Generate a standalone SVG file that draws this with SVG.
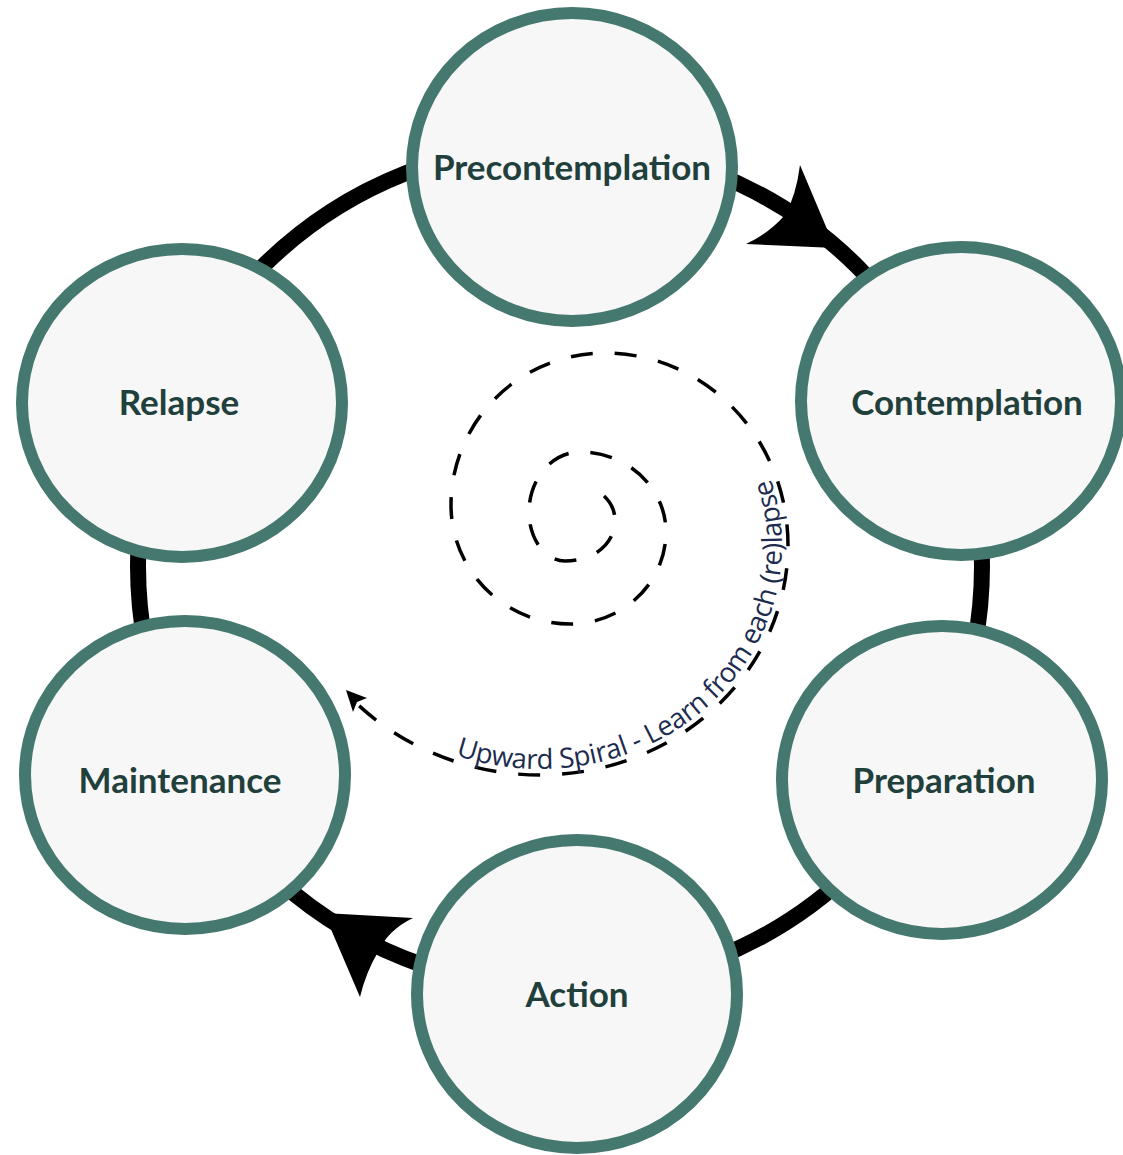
<svg xmlns="http://www.w3.org/2000/svg" width="1123" height="1155" viewBox="0 0 1123 1155">
  <style>
    .node ellipse { fill: #f7f7f7; stroke: #45786f; stroke-width: 12; }
    .node text { font-family: Lato, "Open Sans", "Liberation Sans", sans-serif; font-weight: bold; font-size: 35px; fill: #21403c; text-anchor: middle; }
    .ring { fill: none; stroke: #000; stroke-width: 16; }
    .head { fill: #000; }
    .spiral { fill: none; stroke: #000; stroke-width: 3.5; stroke-dasharray: 22 22; }
    .spiral-label { font-family: "Open Sans", "Liberation Sans", sans-serif; font-size: 27.5px; fill: #1d2b4f; }
  </style>
  <defs>
    <path id="labelPath" d="M 355,702 A 262 250 0 0 0 540,775 A 248 230 0 0 0 788,545 A 183 192 0 0 0 605,353"/>
  </defs>
  <rect width="1123" height="1155" fill="#fff"/>
  <g id="connectors">
    <circle class="ring" cx="560" cy="566" r="422"/>
    <path class="head" d="M835,248 L800,165 Q796,196 785,215 Q768,234 746,244 Z"/>
    <path class="head" d="M324,913 L413,918 Q388,930 378,952 Q366,972 360,997 Z"/>
    <path class="spiral" d="M 604,496 C 628,518 612,561 565,561 A 36 49 0 0 1 529,512 A 51 60 0 0 1 580,452 A 86 80 0 0 1 666,532 A 96 92 0 0 1 570,624 A 119 119 0 0 1 451,505 A 154 152 0 0 1 605,353 A 183 192 0 0 1 788,545 A 248 230 0 0 1 540,775 A 262 250 0 0 1 355,702"/>
    <path class="head" d="M346,690 L367,698 L357,702 L353,712 Z"/>
    <text class="spiral-label" dy="-6"><textPath href="#labelPath" startOffset="116">Upward Spiral - Learn from each (re)lapse</textPath></text>
  </g>
  <g id="precontemplation" class="node">
    <ellipse cx="572" cy="167" rx="160" ry="154"/>
    <text x="572" y="180">Precontemplation</text>
  </g>
  <g id="contemplation" class="node">
    <ellipse cx="961" cy="401" rx="160" ry="154"/>
    <text x="967" y="415">Contemplation</text>
  </g>
  <g id="preparation" class="node">
    <ellipse cx="942" cy="780" rx="160" ry="154"/>
    <text x="944" y="793">Preparation</text>
  </g>
  <g id="action" class="node">
    <ellipse cx="577" cy="994" rx="160" ry="154"/>
    <text x="577" y="1007">Action</text>
  </g>
  <g id="maintenance" class="node">
    <ellipse cx="185" cy="775" rx="160" ry="154"/>
    <text x="180" y="793">Maintenance</text>
  </g>
  <g id="relapse" class="node">
    <ellipse cx="182" cy="403" rx="160" ry="154"/>
    <text x="179" y="415">Relapse</text>
  </g>
</svg>
